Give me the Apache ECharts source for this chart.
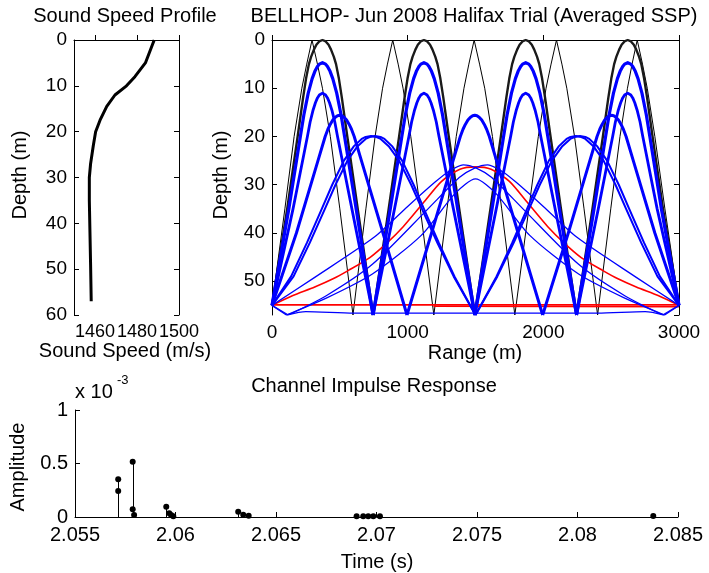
<!DOCTYPE html>
<html>
<head>
<meta charset="utf-8">
<script src="https://cdn.jsdelivr.net/npm/echarts@6/dist/echarts.min.js"></script>
<style>
html,body{margin:0;padding:0;background:#fff;}
#c{width:709px;height:573px;}
</style>
</head>
<body>
<div id="c"></div>
<script>
// ---------- Sound speed profile ----------
const sspDepth = [0, 5, 8, 10, 12, 14.5, 17.5, 20, 23, 27, 30, 35, 42, 49, 57];
const sspSpeed = [1488.2, 1484, 1479, 1475, 1469.5, 1465.6, 1462.4, 1460.3, 1459.2, 1457.9, 1457.3, 1457.3, 1457.6, 1457.9, 1458.2];
const sspSpeedTicks = [1460, 1480, 1500];

// ---------- Eigenrays (range m, depth m), one array per arc ----------
const blackThinArcs = [
  [[0,55],[95,35],[163,20],[220,10],[256,5],[295,0],[335,5],[372,10],[430,20],[500,35],[597,57]],
  [[597,57],[692,35],[760,20],[815,10],[851,5],[890,0],[930,5],[966,10],[1023,20],[1093,35],[1193,57]],
  [[1193,57],[1290,35],[1358,20],[1415,10],[1451,5],[1490,0],[1530,5],[1568,10],[1625,20],[1693,35],[1790,57]],
  [[1790,57],[1893,35],[1963,20],[2020,10],[2057,5],[2097,0],[2137,5],[2173,10],[2230,20],[2300,35],[2400,57]],
  [[2400,57],[2497,35],[2565,20],[2620,10],[2654,5],[2692,0],[2731,5],[2766,10],[2822,20],[2896,35],[3000,55]]
];
const blackBundleArcs = [
  [[0,55],[112,35],[189,20],[229,12],[251,8],[272,5],[288,3.5],[309,2],[327,1],[348,0.3],[372,0],[396,0.3],[417,1],[435,2],[456,3.5],[472,5],[493,8],[515,12],[555,20],[632,35],[745,57]],
  [[745,57],[860,35],[937,20],[977,12],[999,8],[1020,5],[1036,3.5],[1057,2],[1075,1],[1096,0.3],[1120,0],[1144,0.3],[1165,1],[1183,2],[1204,3.5],[1220,5],[1241,8],[1263,12],[1303,20],[1380,35],[1495,57]],
  [[1495,57],[1610,35],[1687,20],[1727,12],[1749,8],[1770,5],[1786,3.5],[1807,2],[1825,1],[1846,0.3],[1870,0],[1894,0.3],[1915,1],[1933,2],[1954,3.5],[1970,5],[1991,8],[2013,12],[2053,20],[2130,35],[2245,57]],
  [[2245,57],[2362,35],[2439,20],[2479,12],[2501,8],[2522,5],[2538,3.5],[2559,2],[2577,1],[2598,0.3],[2622,0],[2646,0.3],[2667,1],[2685,2],[2706,3.5],[2722,5],[2743,8],[2765,12],[2805,20],[2882,35],[3000,55]]
];
const blueTurn5Arcs = [
  [[0,55],[124,35],[209,20],[235,15.5],[267,11],[296,8],[316,6.5],[335,5.5],[349,5],[372,4.7],[395,5],[409,5.5],[428,6.5],[448,8],[477,11],[509,15.5],[535,20],[620,35],[745,57]],
  [[745,57],[872,35],[957,20],[983,15.5],[1015,11],[1044,8],[1064,6.5],[1083,5.5],[1097,5],[1120,4.7],[1143,5],[1157,5.5],[1176,6.5],[1196,8],[1225,11],[1257,15.5],[1283,20],[1368,35],[1495,57]],
  [[1495,57],[1622,35],[1707,20],[1733,15.5],[1765,11],[1794,8],[1814,6.5],[1833,5.5],[1847,5],[1870,4.7],[1893,5],[1907,5.5],[1926,6.5],[1946,8],[1975,11],[2007,15.5],[2033,20],[2118,35],[2245,57]],
  [[2245,57],[2374,35],[2459,20],[2485,15.5],[2517,11],[2546,8],[2566,6.5],[2585,5.5],[2599,5],[2622,4.7],[2645,5],[2659,5.5],[2678,6.5],[2698,8],[2727,11],[2759,15.5],[2785,20],[2870,35],[3000,55]]
];
const blueTurn11Arcs = [
  [[0,55],[155,35],[261,20],[281,17],[303,14.5],[320,13],[335,12],[349,11.4],[372,11],[395,11.4],[409,12],[424,13],[441,14.5],[463,17],[483,20],[589,35],[745,57]],
  [[745,57],[903,35],[1009,20],[1029,17],[1051,14.5],[1068,13],[1083,12],[1097,11.4],[1120,11],[1143,11.4],[1157,12],[1172,13],[1189,14.5],[1211,17],[1231,20],[1337,35],[1495,57]],
  [[1495,57],[1653,35],[1759,20],[1779,17],[1801,14.5],[1818,13],[1833,12],[1847,11.4],[1870,11],[1893,11.4],[1907,12],[1922,13],[1939,14.5],[1961,17],[1981,20],[2087,35],[2245,57]],
  [[2245,57],[2405,35],[2511,20],[2531,17],[2553,14.5],[2570,13],[2585,12],[2599,11.4],[2622,11],[2645,11.4],[2659,12],[2674,13],[2691,14.5],[2713,17],[2733,20],[2839,35],[3000,55]]
];
const blueTurn16Arcs = [
  [[0,55],[180,40],[339,25],[392,20],[412,18.5],[429,17.5],[448,16.6],[467,16],[483,15.7],[499,15.6],[515,15.7],[531,16],[550,16.6],[569,17.5],[586,18.5],[606,20],[659,25],[818,40],[995,57]],
  [[995,57],[1176,40],[1335,25],[1388,20],[1408,18.5],[1425,17.5],[1444,16.6],[1463,16],[1479,15.7],[1495,15.6],[1511,15.7],[1527,16],[1546,16.6],[1565,17.5],[1582,18.5],[1602,20],[1655,25],[1814,40],[1995,57]],
  [[1995,57],[2184,40],[2343,25],[2396,20],[2416,18.5],[2433,17.5],[2452,16.6],[2471,16],[2487,15.7],[2503,15.6],[2519,15.7],[2535,16],[2554,16.6],[2573,17.5],[2590,18.5],[2610,20],[2663,25],[2822,40],[3000,55]]
];
const blueTurn20aArcs = [
  [[0,55],[141,49],[258,42],[367,35],[444,30],[530,25],[604,22],[661,20.5],[690,20.1],[730,19.9],[770,20.1],[801,20.5],[860,22],[937,25],[1026,30],[1105,35],[1218,42],[1339,49],[1500,57]],
  [[1500,57],[1661,49],[1782,42],[1895,35],[1974,30],[2063,25],[2140,22],[2199,20.5],[2230,20.1],[2270,19.9],[2310,20.1],[2339,20.5],[2396,22],[2470,25],[2556,30],[2633,35],[2742,42],[2859,49],[3000,55]]
];
const blueTurn20bArcs = [
  [[0,55],[159,49],[279,42],[390,35],[468,30],[556,25],[631,22],[690,20.5],[720,20.1],[760,19.9],[800,20.1],[829,20.5],[885,22],[959,25],[1044,30],[1120,35],[1229,42],[1345,49],[1500,57]],
  [[1500,57],[1655,49],[1771,42],[1880,35],[1956,30],[2041,25],[2115,22],[2171,20.5],[2200,20.1],[2240,19.9],[2280,20.1],[2310,20.5],[2369,22],[2444,25],[2532,30],[2610,35],[2721,42],[2841,49],[3000,55]]
];
const blueDeepArcs = [
  [[0,55],[315,49.2],[757,40.8],[1000,34.5],[1200,29.5],[1300,27.3],[1409,25.9],[1510,26.6],[1620,28.5],[1850,35],[2260,46.5],[2600,53],[2880,57]],
  [[2880,57],[3000,55]],
  [[0,55],[120,57]],
  [[120,57],[400,53],[740,46.5],[1150,35],[1380,28.5],[1490,26.6],[1591,25.9],[1700,27.3],[1800,29.5],[2000,34.5],[2243,40.8],[2685,49.2],[3000,55]],
  [[0,55],[106,57]],
  [[106,57],[400,53.5],[740,48.5],[1100,40.5],[1350,31.8],[1500,28.8],[1650,31.8],[1900,40.5],[2260,48.5],[2600,53.5],[2894,57]],
  [[2894,57],[3000,55]],
  [[106,57],[250,56.3],[600,56.6],[1500,56.6],[2400,56.6],[2750,56.3],[2894,57]]
];
const redArcs = [
  [[0,55],[150,53],[315,51.2],[450,49.5],[561,47.8],[721,45.1],[850,42],[967,38.7],[1114,33.8],[1250,29.3],[1385,26.8],[1500,26.3],[1615,26.8],[1750,29.3],[1886,33.8],[2033,38.7],[2150,42],[2279,45.1],[2439,47.8],[2550,49.5],[2685,51.2],[2850,53],[3000,55]],
  [[0,54.9],[3000,54.9]],
  [[1190,55.2],[3000,55.3]]
];
const rangeTicks = [0, 1000, 2000, 3000];

// ---------- Channel impulse response ----------
const arrivalTime = [2.05715, 2.05715, 2.05787, 2.05787, 2.05794, 2.05954, 2.05969, 2.05978, 2.05989, 2.06312, 2.06337, 2.06364, 2.06901, 2.06934, 2.06959, 2.06984, 2.07017, 2.08377];
const arrivalAmp  = [0.352, 0.243, 0.517, 0.072, 0.019, 0.096, 0.034, 0.019, 0.006, 0.050, 0.022, 0.012, 0.008, 0.008, 0.008, 0.008, 0.008, 0.010]; // x 10^-3
const timeTicks = [2.055, 2.06, 2.065, 2.07, 2.075, 2.08, 2.085];
const ampTicks = [0, 0.5, 1];

// ---------- build ----------
const FONT = '"Liberation Sans", Arial, Helvetica, sans-serif';
const chart = echarts.init(document.getElementById('c'), null, {renderer: 'canvas'});
const plain = v => String(v);

function ax(extra) {
  const o = {
    axisLine: {show: true, lineStyle: {color: '#000', width: 1}},
    axisTick: {show: true, inside: true, length: 5, lineStyle: {color: '#000'}},
    splitLine: {show: false},
    axisLabel: {color: '#000', fontSize: 19, fontFamily: FONT, formatter: plain, hideOverlap: false}
  };
  for (const k in extra) {
    if (typeof extra[k] === 'object' && !Array.isArray(extra[k]) && o[k]) Object.assign(o[k], extra[k]);
    else o[k] = extra[k];
  }
  return o;
}

const series = [];
series.push({
  type: 'line', xAxisIndex: 0, yAxisIndex: 0, symbol: 'none',
  data: sspDepth.map((d, i) => [sspSpeed[i], d]),
  lineStyle: {color: '#000', width: 3}, silent: true
});
function addArcs(arcs, color, width, smooth) {
  arcs.forEach(a => series.push({
    type: 'line', xAxisIndex: 1, yAxisIndex: 1, symbol: 'none', data: a,
    smooth: smooth || false,
    lineStyle: {color: color, width: width, join: 'round'}, silent: true
  }));
}
addArcs(blackThinArcs, '#000', 1);
addArcs(blackBundleArcs, '#1a1a1a', 2.4);
addArcs(redArcs, '#ff0000', 1.6, 0.25);
addArcs(blueTurn20aArcs, '#0000ff', 2);
addArcs(blueTurn20bArcs, '#0000ff', 2);
addArcs(blueDeepArcs, '#0000ff', 1.3, 0.25);
addArcs(blueTurn16Arcs, '#0000ff', 3);
addArcs(blueTurn11Arcs, '#0000ff', 2.8);
addArcs(blueTurn5Arcs, '#0000ff', 3.2);

const arrivals = arrivalTime.map((t, i) => [t, arrivalAmp[i]]);
series.push({
  type: 'custom', xAxisIndex: 2, yAxisIndex: 2, data: arrivals, silent: true,
  renderItem: function (params, api) {
    const p0 = api.coord([api.value(0), 0]);
    const p1 = api.coord([api.value(0), api.value(1)]);
    const x = Math.round(p0[0]) + 0.5;
    return {type: 'line', shape: {x1: x, y1: p0[1], x2: x, y2: p1[1]},
            style: {stroke: '#000', lineWidth: 1}};
  }
});
series.push({
  type: 'scatter', xAxisIndex: 2, yAxisIndex: 2, data: arrivals, symbol: 'circle',
  symbolSize: 6, itemStyle: {color: '#000', opacity: 1}, silent: true
});

function txt(x, y, text, size, opts) {
  return Object.assign({
    type: 'text', x: x, y: y, silent: true,
    style: {text: text, fill: '#000', font: size + 'px ' + FONT,
            textAlign: 'center', textVerticalAlign: 'middle', align: 'center', verticalAlign: 'middle'}
  }, opts || {});
}

chart.setOption({
  animation: false,
  backgroundColor: '#fff',
  grid: [
    {left: 74, top: 40, width: 105, height: 275},
    {left: 272, top: 40, width: 407, height: 275},
    {left: 75, top: 410, width: 603, height: 107}
  ],
  xAxis: [
    ax({gridIndex: 0, type: 'value', min: 1450, max: 1500, position: 'bottom',
        axisTick: {customValues: sspSpeedTicks},
        axisLabel: {customValues: sspSpeedTicks, margin: 8, fontSize: 18, showMinLabel: true, showMaxLabel: true}}),
    ax({gridIndex: 1, type: 'value', min: 0, max: 3000, position: 'bottom',
        axisTick: {customValues: rangeTicks},
        axisLabel: {customValues: rangeTicks, margin: 8, showMinLabel: true, showMaxLabel: true}}),
    ax({gridIndex: 2, type: 'value', min: 2.055, max: 2.085, position: 'bottom',
        axisTick: {customValues: timeTicks},
        axisLabel: {customValues: timeTicks, margin: 8, fontSize: 20, showMinLabel: true, showMaxLabel: true}})
  ],
  yAxis: [
    ax({gridIndex: 0, type: 'value', min: 0, max: 60, interval: 10, inverse: true, position: 'left',
        axisLabel: {margin: 7}}),
    ax({gridIndex: 1, type: 'value', min: 0, max: 57, interval: 10, inverse: true, position: 'left',
        axisLabel: {margin: 7, showMaxLabel: false}}),
    ax({gridIndex: 2, type: 'value', min: 0, max: 1, position: 'left',
        axisTick: {customValues: ampTicks},
        axisLabel: {customValues: ampTicks, margin: 7, fontSize: 20, showMinLabel: true, showMaxLabel: true}}),
    ax({gridIndex: 0, type: 'value', min: 0, max: 60, interval: 10, inverse: true, position: 'right',
        axisLabel: {show: false}}),
    ax({gridIndex: 1, type: 'value', min: 0, max: 57, interval: 10, inverse: true, position: 'right',
        axisLabel: {show: false}})
  ],
  series: series,
  graphic: [
    txt(125, 16, 'Sound Speed Profile', 20),
    txt(474, 16, 'BELLHOP- Jun 2008 Halifax Trial (Averaged SSP)', 20),
    txt(20, 175, 'Depth (m)', 20, {rotation: Math.PI / 2}),
    txt(221, 175, 'Depth (m)', 20, {rotation: Math.PI / 2}),
    txt(125, 351, 'Sound Speed (m/s)', 20),
    txt(475, 353, 'Range (m)', 20),
    txt(374, 386, 'Channel Impulse Response', 20),
    {type: 'text', x: 75, y: 392, silent: true,
     style: {text: 'x 10', fill: '#000', font: '20px ' + FONT, textAlign: 'left', textVerticalAlign: 'middle', align: 'left', verticalAlign: 'middle'}},
    {type: 'text', x: 117, y: 380, silent: true,
     style: {text: '-3', fill: '#000', font: '13px ' + FONT, textAlign: 'left', textVerticalAlign: 'middle', align: 'left', verticalAlign: 'middle'}},
    txt(18, 467, 'Amplitude', 20, {rotation: Math.PI / 2}),
    txt(377, 562, 'Time (s)', 20)
  ]
});
</script>
</body>
</html>
